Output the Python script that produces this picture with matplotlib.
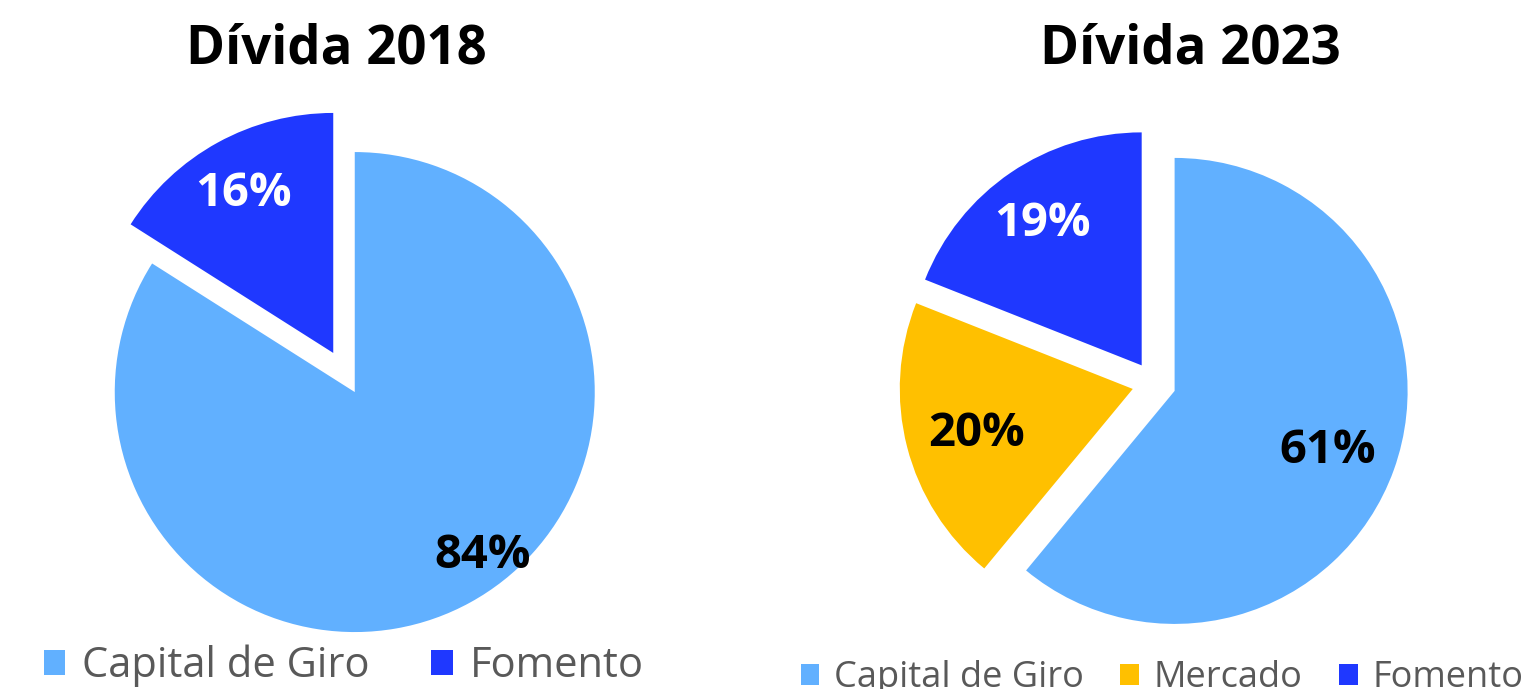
import numpy as np
import matplotlib
matplotlib.use("Agg")
import matplotlib.pyplot as plt

plt.rcParams["font.family"] = ["Open Sans", "DejaVu Sans"]

# Debt composition data
categories_2018 = ["Capital de Giro", "Fomento"]
values_2018 = [84, 16]
categories_2023 = ["Capital de Giro", "Mercado", "Fomento"]
values_2023 = [61, 20, 19]

COLORS = {"Capital de Giro": "#61B0FF", "Mercado": "#FFC000", "Fomento": "#1F38FF"}
LABEL_COLORS = {"Capital de Giro": "black", "Mercado": "black", "Fomento": "white"}

W, H = 1532, 689
fig = plt.figure(figsize=(W / 100, H / 100), dpi=100)


def pie_axes(cx, cy, r):
    """Full-figure axes where one data unit equals the pie radius."""
    ax = fig.add_axes([0, 0, 1, 1])
    ax.set_axis_off()
    return ax, (-cx / r, (W - cx) / r), (-(H - cy) / r, cy / r)


def draw_pie(cx, cy, r, cats, vals, explode, label_r, label_shift, fs):
    ax, xl, yl = pie_axes(cx, cy, r)
    wedges, _ = ax.pie(vals, colors=[COLORS[c] for c in cats], startangle=90,
                       counterclock=False, explode=[explode] * len(vals),
                       radius=1, wedgeprops=dict(linewidth=0))
    # half the digit height, in radius units, so labels sit centred on the digits
    half_cap = 0.714 * fs * 100 / 72 / 2 / r
    for w, c, v, lr, sh in zip(wedges, cats, vals, label_r, label_shift):
        mid = np.deg2rad((w.theta1 + w.theta2) / 2 + sh)
        x = w.center[0] + lr * np.cos(mid)
        y = w.center[1] + lr * np.sin(mid)
        ax.text(x, y - half_cap, f"{v}%", ha="center", va="baseline", fontsize=fs,
                fontweight="bold", color=LABEL_COLORS[c])
    ax.set_xlim(*xl)
    ax.set_ylim(*yl)
    ax.set_aspect("auto")
    return wedges


w18 = draw_pie(344, 372.5, 240, categories_2018, values_2018, 0.093,
               [0.85, 0.78], [10, 0], 34)
w23 = draw_pie(1154, 383.5, 233, categories_2023, values_2023, 0.094,
               [0.70, 0.69, 0.76], [0, 0, 0], 34)

# Titles
for xc, title in [(336, "Dívida 2018"), (1190.5, "Dívida 2023")]:
    fig.text(xc / W, 1 - 63 / H, title, ha="center", va="baseline",
             fontsize=38, fontweight="bold", color="black")

# Legends
fig.legend(w18, categories_2018, loc="center", bbox_to_anchor=(343.5 / W, 1 - 666 / H),
           ncol=2, frameon=False, fontsize=30, labelcolor="#595959",
           handlelength=0.52, handleheight=0.52, handletextpad=0.40,
           columnspacing=1.48, borderpad=0, borderaxespad=0)
fig.legend(w23, categories_2023, loc="center", bbox_to_anchor=(1162 / W, 1 - 678 / H),
           ncol=3, frameon=False, fontsize=26, labelcolor="#595959",
           handlelength=0.52, handleheight=0.52, handletextpad=0.41,
           columnspacing=1.0, borderpad=0, borderaxespad=0)

fig.savefig("out.png", dpi=100, facecolor="white")
